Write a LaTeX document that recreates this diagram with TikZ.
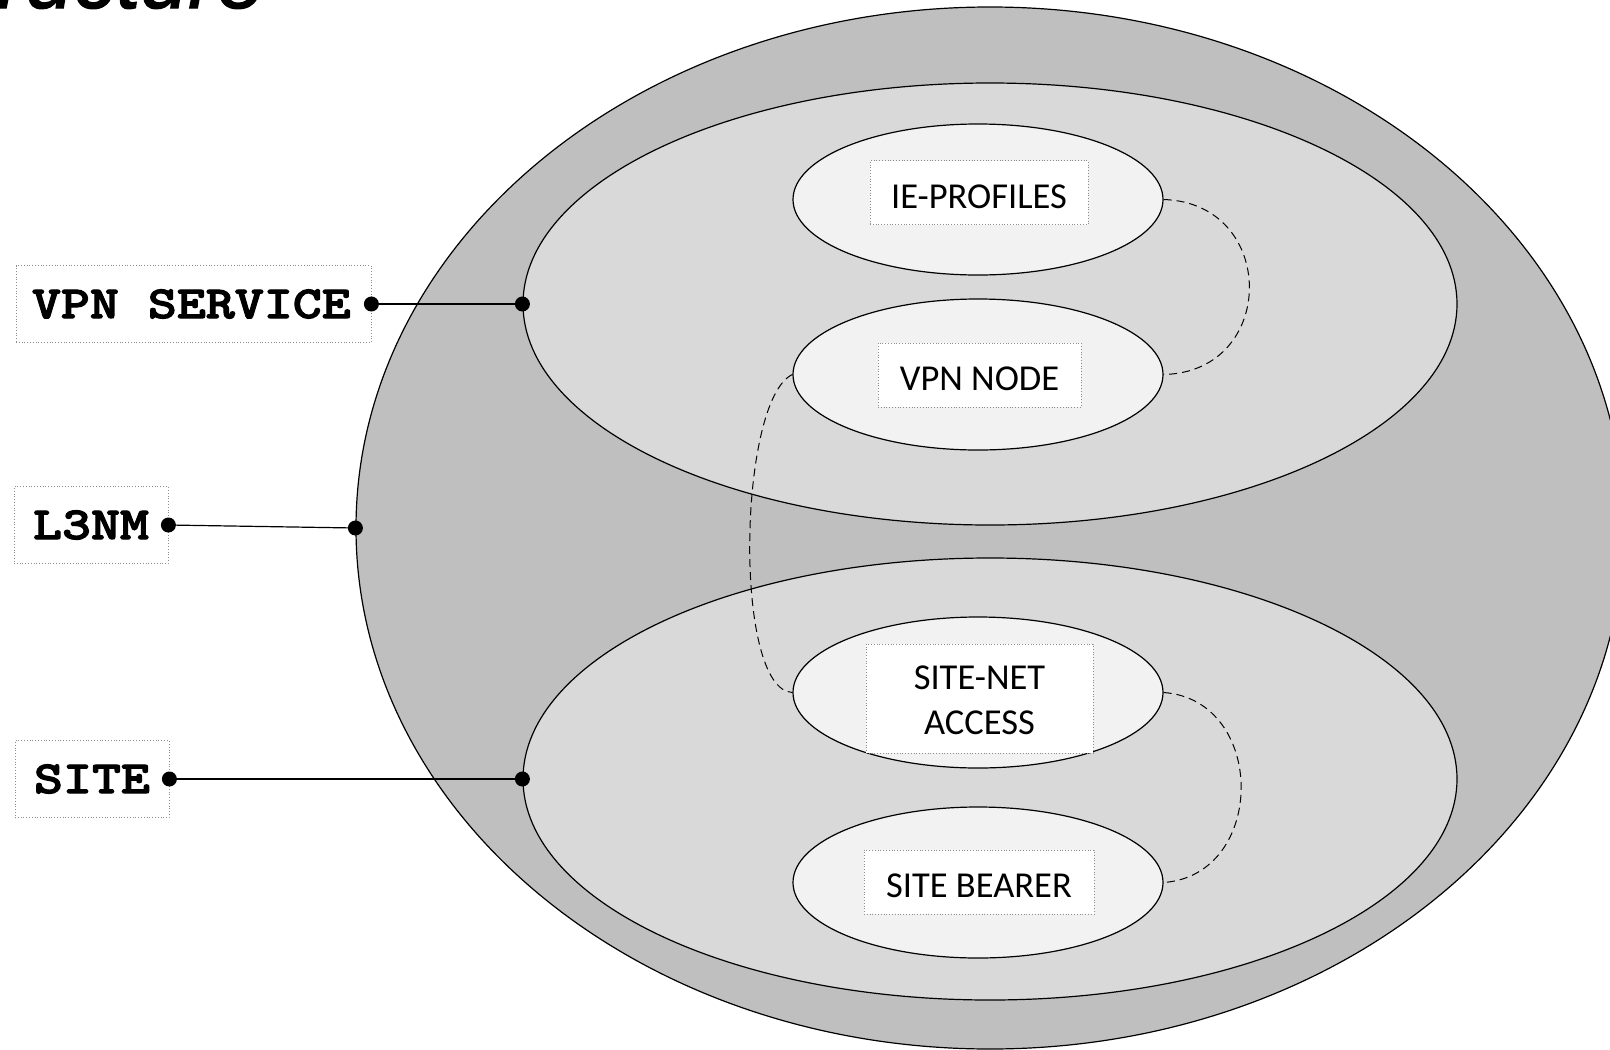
\documentclass[tikz,border=0pt]{standalone}
\usepackage{fontspec}
\setmainfont{Carlito}
\newfontfamily\monob{lmmonolt10-bold.otf}[FakeStretch=1.2, FakeBold=2.5]
\newfontfamily\titlef{Liberation Sans}[FakeBold=1.5]
\usetikzlibrary{shapes.geometric}
\definecolor{ringA}{HTML}{BFBFBF}
\definecolor{ringB}{HTML}{D9D9D9}
\definecolor{ringC}{HTML}{F2F2F2}
\newcommand{\lowtxt}[1]{\raisebox{-4pt}[\height][\depth]{#1}}
\begin{document}
\begin{tikzpicture}[x=1pt,y=-1pt,
  ring/.style={ellipse, draw=black, line width=1.2pt, inner sep=0pt},
  outerring/.style={ring, fill=ringA, minimum width=1268pt, minimum height=1042pt},
  midring/.style={ring, fill=ringB, minimum width=934pt, minimum height=442pt},
  smallring/.style={ring, fill=ringC, minimum width=370pt, minimum height=151pt},
  inbox/.style={draw=black!45, dotted, line width=0.8pt, fill=white, inner sep=0pt,
    font=\fontsize{36.5}{45}\selectfont, align=center},
  lbl/.style={draw=black!45, dotted, line width=0.8pt, fill=white, inner ysep=0pt,
    font=\monob\fontsize{46}{54}\selectfont, minimum height=77pt},
  conn/.style={draw=black, line width=1.2pt},
  dotn/.style={circle, fill=black, inner sep=0pt, minimum size=15pt},
  dashc/.style={draw=black, line width=1pt, dash pattern=on 8pt off 5pt}
]
\useasboundingbox[fill=white] (0,0) rectangle (1610,1050);

\node[anchor=base east, inner sep=0pt, font=\titlef\itshape\fontsize{86}{90}\selectfont] (title) at (265,8) {ructure};

% ellipses
\node[outerring] (l3nmring) at (990,528) {};
\node[midring] (svc) at (990,304) {};
\node[midring] (site) at (990,779) {};
\node[smallring] (ie) at (978,199.5) {};
\node[smallring] (vpnnode) at (978,374.5) {};
\node[smallring] (sitenet) at (978,692.5) {};
\node[smallring] (bearer) at (978,882.5) {};

% text boxes inside
\node[inbox, minimum width=218pt, minimum height=64pt] (ietxt) at (979,192.5) {\lowtxt{IE-PROFILES}};
\node[inbox, minimum width=203pt, minimum height=64pt] (vpntxt) at (979.5,375) {\lowtxt{VPN NODE}};
\node[inbox, minimum width=227pt, minimum height=109pt] (sitenettxt) at (979.5,698.5) {\lowtxt{\begin{tabular}{@{}c@{}}SITE-NET\\ACCESS\end{tabular}}};
\node[inbox, minimum width=230pt, minimum height=64pt] (bearertxt) at (979,882) {\lowtxt{SITE BEARER}};

% dashed relations
\draw[dashc] (ie.east) .. controls (1278,203) and (1278,372) .. (vpnnode.east);
\draw[dashc] (vpnnode.west) .. controls (738,400) and (733,690) .. (sitenet.west);
\draw[dashc] (sitenet.east) .. controls (1267,700) and (1267,875) .. (bearer.east);

% left labels
\node[lbl, text width=323pt, inner xsep=16pt, align=left] (vpnsvc) at (193.5,304) {VPN\hspace{29pt}SERVICE};
\node[lbl, minimum width=154pt, inner xsep=0pt] (l3nm) at (91,525) {L3NM};
\node[lbl, minimum width=154pt, inner xsep=0pt] (sitelbl) at (92,779) {SITE};

\draw[conn] (vpnsvc.east) -- (svc.west);
\draw[conn] (l3nm.east) -- (l3nmring.west);
\draw[conn] (sitelbl.east) -- (site.west);

\node[dotn] (d1) at (vpnsvc.east) {};
\node[dotn] (d2) at (svc.west) {};
\node[dotn] (d3) at (l3nm.east) {};
\node[dotn] (d4) at (l3nmring.west) {};
\node[dotn] (d5) at (sitelbl.east) {};
\node[dotn] (d6) at (site.west) {};
\end{tikzpicture}
\end{document}
